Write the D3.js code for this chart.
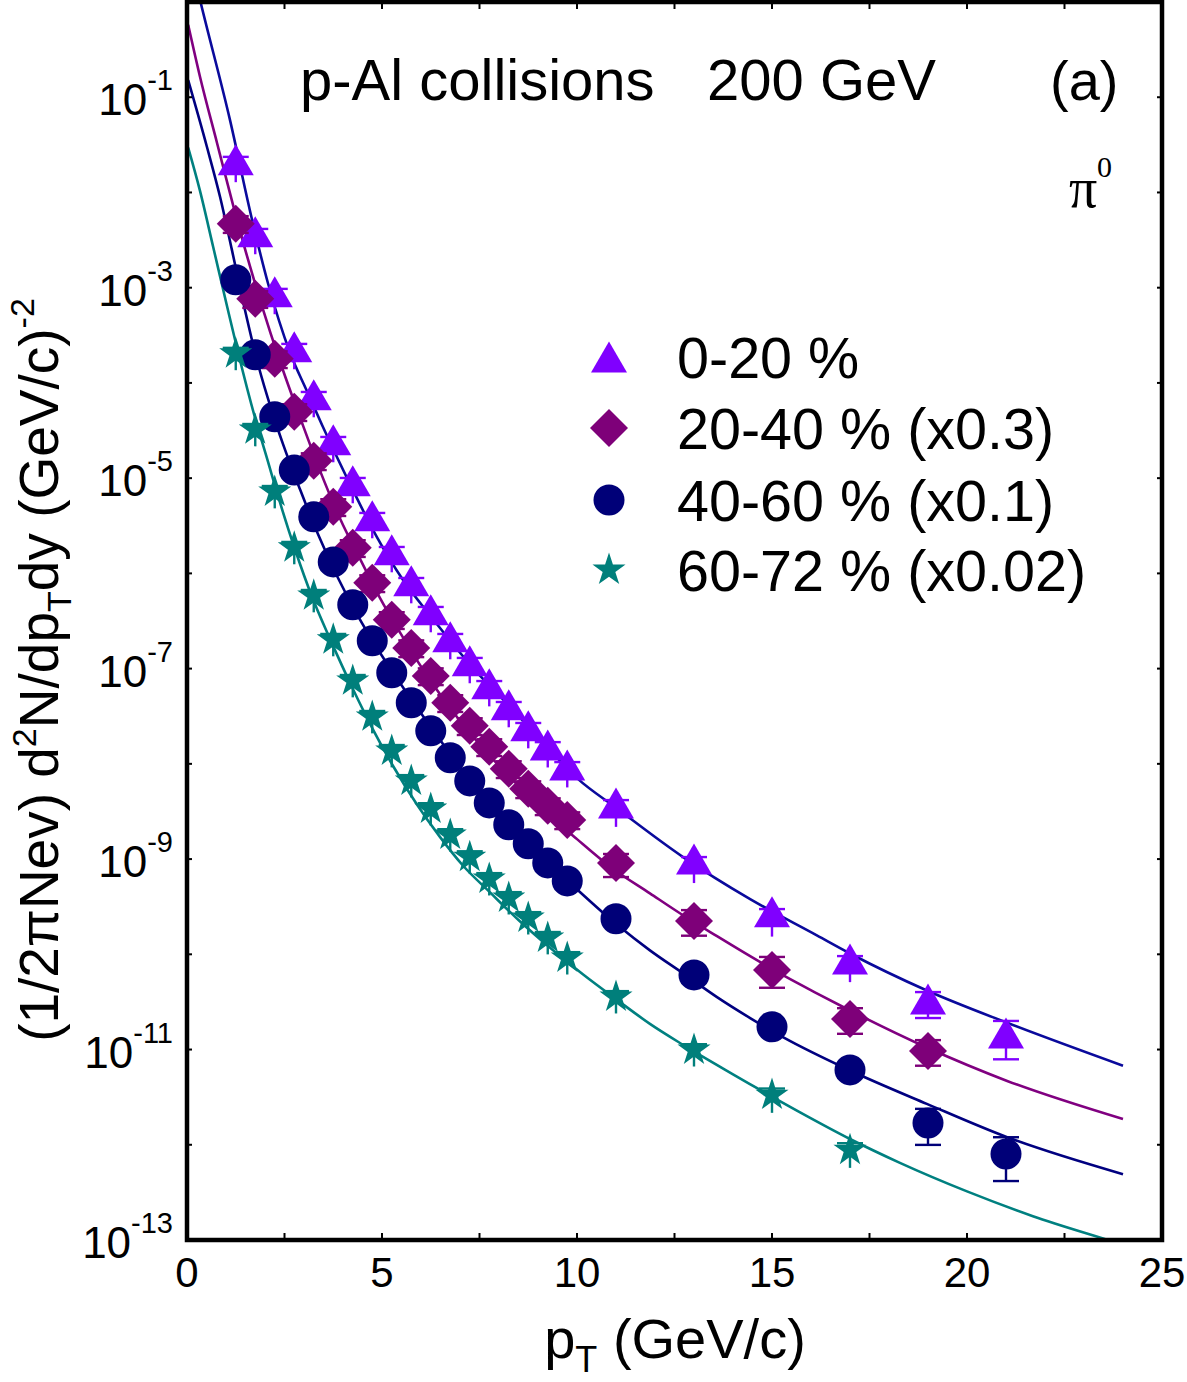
<!DOCTYPE html>
<html>
<head>
<meta charset="utf-8">
<script src="https://cdn.jsdelivr.net/npm/d3@7"></script>
<style>
    body { margin: 0; background: #fff; }
    text { font-family: "Liberation Sans", Arial, Helvetica, sans-serif; fill: #000; }
</style>
</head>
<body>
<svg id="chart" width="1187" height="1382"></svg>
<script>
// measured pi0 spectra, p-Al 200 GeV, four centrality classes (already scaled)
var ptA = [1.25, 1.75, 2.25, 2.75, 3.25, 3.75, 4.25, 4.75, 5.25, 5.75, 6.25, 6.75, 7.25, 7.75, 8.25, 8.75, 9.25, 9.75, 11, 13, 15, 17, 19, 21];
var yieldA = [2.21e-2, 3.87e-3, 9.08e-4, 2.40e-4, 7.51e-5, 2.53e-5, 9.39e-6, 4.03e-6, 1.77e-6, 8.36e-7, 4.15e-7, 2.16e-7, 1.21e-7, 6.92e-8, 4.17e-8, 2.51e-8, 1.58e-8, 9.75e-9, 3.89e-9, 1.00e-9, 2.79e-10, 8.95e-11, 3.40e-11, 1.49e-11];
var errHiA = [0.07, 0.07, 0.07, 0.07, 0.07, 0.07, 0.07, 0.07, 0.07, 0.07, 0.07, 0.07, 0.07, 0.07, 0.07, 0.07, 0.07, 0.07, 0.07, 0.05, 0.07, 0.07, 0.18, 0.34];
var errLoA = [0.42, 0.42, 0.42, 0.42, 0.42, 0.42, 0.42, 0.42, 0.42, 0.42, 0.42, 0.42, 0.42, 0.42, 0.42, 0.42, 0.42, 0.42, 0.44, 0.44, 0.45, 0.43, 0.37, 0.47];
var capLoA = [0, 0, 0, 0, 0, 0, 0, 0, 0, 0, 0, 0, 0, 0, 0, 0, 0, 0, 0, 0, 0, 0, 1, 1];

var ptB = [1.25, 1.75, 2.25, 2.75, 3.25, 3.75, 4.25, 4.75, 5.25, 5.75, 6.25, 6.75, 7.25, 7.75, 8.25, 8.75, 9.25, 9.75, 11, 13, 15, 17, 19];
var yieldB = [4.70e-3, 7.67e-4, 1.79e-4, 4.98e-5, 1.52e-5, 5.01e-6, 1.86e-6, 7.96e-7, 3.26e-7, 1.65e-7, 8.39e-8, 4.38e-8, 2.51e-8, 1.51e-8, 8.87e-9, 5.46e-9, 3.62e-9, 2.58e-9, 9.12e-10, 2.24e-10, 6.85e-11, 2.09e-11, 9.66e-12];
var errHiB = [0.2, 0.2, 0.2, 0.2, 0.2, 0.2, 0.2, 0.2, 0.2, 0.2, 0.2, 0.2, 0.2, 0.2, 0.2, 0.2, 0.2, 0.2, 0.24, 0.3, 0.37, 0.3, 0.3];
var errLoB = [0.2, 0.2, 0.2, 0.2, 0.2, 0.2, 0.2, 0.2, 0.2, 0.2, 0.2, 0.2, 0.2, 0.2, 0.2, 0.2, 0.2, 0.2, 0.29, 0.3, 0.35, 0.3, 0.3];
var capLoB = [1, 1, 1, 1, 1, 1, 1, 1, 1, 1, 1, 1, 1, 1, 1, 1, 1, 1, 1, 1, 1, 1, 1];

var ptC = [1.25, 1.75, 2.25, 2.75, 3.25, 3.75, 4.25, 4.75, 5.25, 5.75, 6.25, 6.75, 7.25, 7.75, 8.25, 8.75, 9.25, 9.75, 11, 13, 15, 17, 19, 21];
var yieldC = [1.21e-3, 1.98e-4, 4.42e-5, 1.22e-5, 3.94e-6, 1.32e-6, 4.68e-7, 1.96e-7, 9.04e-8, 4.38e-8, 2.22e-8, 1.16e-8, 6.62e-9, 3.89e-9, 2.29e-9, 1.45e-9, 9.12e-10, 5.90e-10, 2.36e-10, 6.08e-11, 1.73e-11, 6.11e-12, 1.69e-12, 8.0e-13];
var errHiC = [0.1, 0.1, 0.1, 0.1, 0.1, 0.1, 0.1, 0.1, 0.1, 0.1, 0.1, 0.1, 0.1, 0.1, 0.1, 0.1, 0.1, 0.1, 0.1, 0.1, 0.1, 0.15, 0.41, 0.5];
var errLoC = [0.1, 0.1, 0.1, 0.1, 0.1, 0.1, 0.1, 0.1, 0.1, 0.1, 0.1, 0.1, 0.1, 0.1, 0.1, 0.1, 0.1, 0.1, 0.1, 0.1, 0.1, 0.15, 0.41, 0.48];
var capLoC = [1, 1, 1, 1, 1, 1, 1, 1, 1, 1, 1, 1, 1, 1, 1, 1, 1, 1, 1, 1, 1, 1, 1, 1];

var ptD = [1.25, 1.75, 2.25, 2.75, 3.25, 3.75, 4.25, 4.75, 5.25, 5.75, 6.25, 6.75, 7.25, 7.75, 8.25, 8.75, 9.25, 9.75, 11, 13, 15, 17];
var yieldD = [2.03e-4, 3.22e-5, 7.19e-6, 1.86e-6, 5.82e-7, 2.01e-7, 7.45e-8, 3.12e-8, 1.37e-8, 6.62e-9, 3.36e-9, 1.79e-9, 1.05e-9, 6.19e-10, 3.91e-10, 2.41e-10, 1.49e-10, 9.16e-11, 3.57e-11, 9.9e-12, 3.33e-12, 8.8e-13];
var errHiD = [0.15, 0.15, 0.15, 0.15, 0.15, 0.15, 0.15, 0.15, 0.15, 0.15, 0.15, 0.15, 0.15, 0.15, 0.15, 0.15, 0.15, 0.15, 0.15, 0.15, 0.17, 0.18];
var errLoD = [0.33, 0.33, 0.33, 0.33, 0.33, 0.33, 0.33, 0.33, 0.33, 0.33, 0.33, 0.33, 0.33, 0.33, 0.33, 0.33, 0.33, 0.33, 0.33, 0.33, 0.35, 0.35];
var capLoD = [0, 0, 0, 0, 0, 0, 0, 0, 0, 0, 0, 0, 0, 0, 0, 0, 0, 0, 0, 0, 0, 0];

// fit curves
var fitPtA = [0.03, 0.33, 1.10, 1.67, 2.08, 2.64, 3.08, 3.46, 4.26, 4.87, 5.54, 6.23, 7.33, 8.28, 9.05, 10.0, 11.03, 12.72, 14.44, 16.15, 17.0, 18.97, 21.03, 24.0];
var fitA = [3.55, 1.07, 5.82e-2, 5.13e-3, 1.10e-3, 2.09e-4, 8.13e-5, 3.63e-5, 7.41e-6, 2.40e-6, 8.51e-7, 3.63e-7, 1.02e-7, 3.98e-8, 1.82e-8, 7.08e-9, 3.39e-9, 1.05e-9, 3.80e-10, 1.58e-10, 1.02e-10, 4.17e-11, 1.91e-11, 6.76e-12];

var fitPtB = [0.03, 0.33, 0.77, 1.18, 1.54, 1.92, 2.38, 2.95, 3.41, 3.92, 4.44, 4.95, 5.46, 6.05, 7.0, 8.0, 9.0, 10.0, 10.85, 11.87, 12.72, 13.59, 14.44, 15.28, 16.15, 17.0, 18.97, 21.03, 24.0];
var fitB = [0.575, 0.166, 3.31e-2, 7.41e-3, 2.14e-3, 6.46e-4, 1.70e-4, 3.80e-5, 1.20e-5, 3.80e-6, 1.41e-6, 5.50e-7, 2.40e-7, 9.77e-8, 2.82e-8, 9.55e-9, 3.72e-9, 1.62e-9, 8.32e-10, 4.37e-10, 2.57e-10, 1.55e-10, 9.55e-11, 6.03e-11, 3.89e-11, 2.57e-11, 1.05e-11, 4.68e-12, 1.86e-12];

var fitPtC = [0.03, 0.51, 0.85, 1.15, 1.44, 1.82, 2.18, 2.46, 2.90, 3.36, 3.85, 4.36, 4.90, 5.38, 6.0, 7.0, 8.0, 9.0, 9.90, 11.03, 11.87, 12.72, 13.59, 14.44, 15.28, 17.0, 18.97, 21.03, 24.0];
var fitC = [0.151, 3.02e-2, 8.91e-3, 2.51e-3, 7.08e-4, 1.58e-4, 5.01e-5, 2.29e-5, 7.59e-6, 2.57e-6, 9.33e-7, 3.72e-7, 1.58e-7, 7.94e-8, 3.39e-8, 9.33e-9, 3.02e-9, 1.15e-9, 5.25e-10, 2.04e-10, 1.10e-10, 6.31e-11, 3.55e-11, 2.14e-11, 1.35e-11, 6.03e-12, 2.69e-12, 1.20e-12, 4.90e-13];

var fitPtD = [0.03, 0.33, 0.67, 1.03, 1.31, 1.74, 2.05, 2.38, 2.77, 3.21, 3.67, 4.26, 4.77, 5.28, 5.90, 6.49, 7.08, 7.77, 8.5, 9.31, 10.15, 11.03, 11.87, 12.72, 14.0, 15.72, 17.0, 18.28, 20.0, 21.69, 23.85, 24.0];
var fitD = [2.95e-2, 1.05e-2, 2.69e-3, 6.31e-4, 2.09e-4, 4.37e-5, 1.62e-5, 5.62e-6, 1.78e-6, 5.62e-7, 2.04e-7, 6.03e-8, 2.29e-8, 9.55e-9, 3.72e-9, 1.70e-9, 8.51e-10, 4.47e-10, 2.29e-10, 1.17e-10, 6.17e-11, 3.31e-11, 1.86e-11, 1.12e-11, 5.50e-12, 2.19e-12, 1.15e-12, 6.46e-13, 3.24e-13, 1.78e-13, 9.33e-14, 8.91e-14];

var legendLabels = ["0-20 %", "20-40 % (x0.3)", "40-60 % (x0.1)", "60-72 % (x0.02)"];
var xTicks = [0, 5, 10, 15, 20, 25];
var xMinorTicks = [2.5, 7.5, 12.5, 17.5, 22.5];
var yTickExps = [-1, -3, -5, -7, -9, -11, -13];

var series = [
    {pt: ptA, y: yieldA, hi: errHiA, lo: errLoA, capLo: capLoA, shape: "triangle", color: "#8000ff", fitPt: fitPtA, fit: fitA, fitColor: "#0a0a9c"},
    {pt: ptB, y: yieldB, hi: errHiB, lo: errLoB, capLo: capLoB, shape: "diamond", color: "#7e0079", fitPt: fitPtB, fit: fitB, fitColor: "#800080"},
    {pt: ptC, y: yieldC, hi: errHiC, lo: errLoC, capLo: capLoC, shape: "circle", color: "#000078", fitPt: fitPtC, fit: fitC, fitColor: "#000080"},
    {pt: ptD, y: yieldD, hi: errHiD, lo: errLoD, capLo: capLoD, shape: "star", color: "#007f7b", fitPt: fitPtD, fit: fitD, fitColor: "#008080"}
];

var frame = {left: 187, right: 1162, top: 2, bottom: 1240};

var xScale = d3.scaleLinear().domain([0, 25]).range([frame.left, frame.right]);
var yScale = d3.scaleLog().domain([1e-13, 1]).range([frame.bottom, frame.top]);

var svg = d3.select("#chart");

svg.append("defs").append("clipPath")
    .attr("id", "plot-clip")
    .append("rect")
    .attr("x", frame.left)
    .attr("y", frame.top)
    .attr("width", frame.right - frame.left)
    .attr("height", frame.bottom - frame.top);

function markerPath(shape) {
    if (shape === "triangle") {
        return "M0,-15.5L18,15.5L-18,15.5Z";
    } else if (shape === "diamond") {
        return "M0,-19L19,0L0,19L-19,0Z";
    } else if (shape === "circle") {
        return d3.symbol(d3.symbolCircle, Math.PI * 15.5 * 15.5)();
    }
    return d3.symbol(d3.symbolStar, 340)();
}

var plot = svg.append("g").attr("clip-path", "url(#plot-clip)");

// fit curves
series.forEach(function (s) {
    var pts = s.fitPt.map(function (p, i) {
        return {pt: p, y: s.fit[i]};
    });
    plot.append("path")
        .datum(pts)
        .attr("fill", "none")
        .attr("stroke", s.fitColor)
        .attr("stroke-width", 2.6)
        .attr("d", d3.line()
            .curve(d3.curveMonotoneX)
            .x(function (d) { return xScale(d.pt); })
            .y(function (d) { return yScale(d.y); }));
});

// error bars then markers
series.forEach(function (s) {
    var pts = s.pt.map(function (p, i) {
        return {pt: p, y: s.y[i], hi: s.y[i] * (1 + s.hi[i]), lo: s.y[i] * (1 - s.lo[i]), capLo: s.capLo[i]};
    });
    var g = plot.append("g");
    var bars = g.selectAll(".bar").data(pts).enter().append("g")
        .attr("stroke", s.color)
        .attr("stroke-width", 2.4);
    bars.append("line")
        .attr("x1", function (d) { return xScale(d.pt); })
        .attr("x2", function (d) { return xScale(d.pt); })
        .attr("y1", function (d) { return yScale(d.hi); })
        .attr("y2", function (d) { return yScale(d.lo); });
    bars.append("line")
        .attr("x1", function (d) { return xScale(d.pt) - 13; })
        .attr("x2", function (d) { return xScale(d.pt) + 13; })
        .attr("y1", function (d) { return yScale(d.hi); })
        .attr("y2", function (d) { return yScale(d.hi); });
    bars.filter(function (d) { return d.capLo; }).append("line")
        .attr("x1", function (d) { return xScale(d.pt) - 13; })
        .attr("x2", function (d) { return xScale(d.pt) + 13; })
        .attr("y1", function (d) { return yScale(d.lo); })
        .attr("y2", function (d) { return yScale(d.lo); });

    g.selectAll(".marker").data(pts).enter().append("path")
        .attr("d", markerPath(s.shape))
        .attr("transform", function (d) {
            return "translate(" + xScale(d.pt) + "," + yScale(d.y) + ")";
        })
        .attr("fill", s.color);
});

// frame
svg.append("rect")
    .attr("x", frame.left)
    .attr("y", frame.top)
    .attr("width", frame.right - frame.left)
    .attr("height", frame.bottom - frame.top)
    .attr("fill", "none")
    .attr("stroke", "#000")
    .attr("stroke-width", 4.5);

// ticks
var tickG = svg.append("g").attr("stroke", "#000").attr("stroke-width", 2);
xTicks.concat(xMinorTicks).forEach(function (t) {
    tickG.append("line").attr("x1", xScale(t)).attr("x2", xScale(t))
        .attr("y1", frame.bottom).attr("y2", frame.bottom - 7);
    tickG.append("line").attr("x1", xScale(t)).attr("x2", xScale(t))
        .attr("y1", frame.top).attr("y2", frame.top + 7);
});
d3.range(-13, 1).forEach(function (e) {
    var yy = yScale(Math.pow(10, e));
    tickG.append("line").attr("x1", frame.left).attr("x2", frame.left + 5).attr("y1", yy).attr("y2", yy);
    tickG.append("line").attr("x1", frame.right).attr("x2", frame.right - 5).attr("y1", yy).attr("y2", yy);
});

// x tick labels
svg.selectAll(".xlab").data(xTicks).enter().append("text")
    .attr("x", function (d) { return xScale(d); })
    .attr("y", 1287)
    .attr("text-anchor", "middle")
    .style("font-size", "42px")
    .text(function (d) { return d; });

// y tick labels
yTickExps.forEach(function (e) {
    var yy = yScale(Math.pow(10, e));
    var t = svg.append("text")
        .attr("x", 173)
        .attr("y", yy + 18)
        .attr("text-anchor", "end")
        .style("font-size", "44px");
    t.append("tspan").text("10");
    t.append("tspan").attr("dy", -25).style("font-size", "29px").text(String(e));
});

// axis titles
var xt = svg.append("text")
    .attr("x", 675)
    .attr("y", 1358)
    .attr("text-anchor", "middle")
    .style("font-size", "56px");
xt.append("tspan").text("p");
xt.append("tspan").attr("dy", 14).style("font-size", "36px").text("T");
xt.append("tspan").attr("dy", -14).text(" (GeV/c)");

var yt = svg.append("text")
    .attr("transform", "translate(58,670) rotate(-90)")
    .attr("text-anchor", "middle")
    .style("font-size", "55px");
yt.append("tspan").text("(1/2\u03c0Nev) d");
yt.append("tspan").attr("dy", -22).style("font-size", "34px").text("2");
yt.append("tspan").attr("dy", 22).text("N/dp");
yt.append("tspan").attr("dy", 13).style("font-size", "34px").text("T");
yt.append("tspan").attr("dy", -13).text("dy (GeV/c)");
yt.append("tspan").attr("dy", -24).style("font-size", "34px").text("-2");

// header texts
svg.append("text").attr("x", 300).attr("y", 100).style("font-size", "58px").text("p-Al collisions");
svg.append("text").attr("x", 707).attr("y", 100).style("font-size", "58px").text("200 GeV");
svg.append("text").attr("x", 1050).attr("y", 100).style("font-size", "56px").text("(a)");
svg.append("text").attr("x", 1069).attr("y", 207)
    .style("font-family", "'Liberation Serif', 'Times New Roman', serif")
    .style("font-size", "56px").text("\u03c0");
svg.append("text").attr("x", 1097).attr("y", 177)
    .style("font-family", "'Liberation Serif', 'Times New Roman', serif")
    .style("font-size", "30px").text("0");

// legend
var legend = svg.append("g");
var legendY = [357, 428, 500, 570];
series.forEach(function (s, i) {
    legend.append("path")
        .attr("d", markerPath(s.shape))
        .attr("transform", "translate(609," + legendY[i] + ")")
        .attr("fill", s.color);
    legend.append("text")
        .attr("x", 677)
        .attr("y", legendY[i] + 21)
        .style("font-size", "57.5px")
        .text(legendLabels[i]);
});
</script>
</body>
</html>
